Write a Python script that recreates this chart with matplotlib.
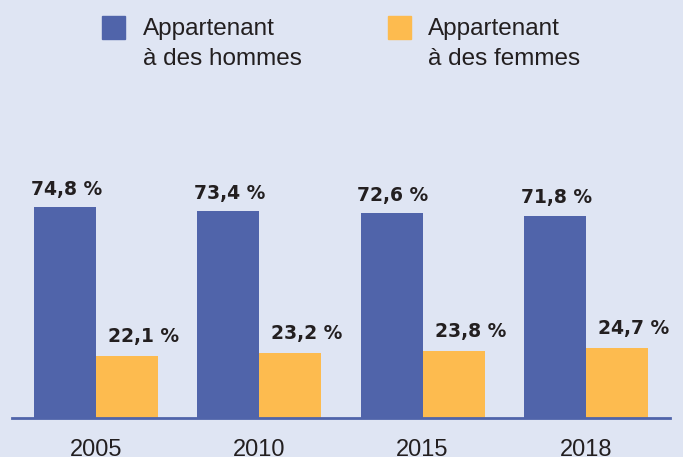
import matplotlib
matplotlib.use("Agg")
import matplotlib.pyplot as plt
from matplotlib.patches import Rectangle

# données
annees = ["2005", "2010", "2015", "2018"]
hommes = [74.8, 73.4, 72.6, 71.8]
femmes = [22.1, 23.2, 23.8, 24.7]
etiquettes_hommes = ["74,8 %", "73,4 %", "72,6 %", "71,8 %"]
etiquettes_femmes = ["22,1 %", "23,2 %", "23,8 %", "24,7 %"]
series = ["Appartenant\nà des hommes", "Appartenant\nà des femmes"]

FOND = "#dfe5f3"
BLEU = "#5064aa"
ORANGE = "#fdbb4f"
TEXTE = "#231f20"

W, H = 683, 457
fig = plt.figure(figsize=(W / 100, H / 100), dpi=100, facecolor=FOND)
ax = fig.add_axes([12 / W, 39 / H, (670 - 12) / W, (418 - 100) / H])
ax.set_facecolor(FOND)

x = list(range(len(annees)))
larg = 0.38
b1 = ax.bar([i - larg / 2 for i in x], hommes, width=larg, color=BLEU)
b2 = ax.bar([i + larg / 2 for i in x], femmes, width=larg, color=ORANGE)

for rect, lab in zip(b1, etiquettes_hommes):
    ax.annotate(lab, (rect.get_x() + rect.get_width() / 2, rect.get_height()),
                xytext=(1, 9), textcoords="offset points", ha="center", va="baseline",
                fontsize=13.5, fontweight="bold", color=TEXTE, family="DejaVu Sans")
for rect, lab in zip(b2, etiquettes_femmes):
    ax.annotate(lab, (rect.get_x() + rect.get_width() / 2, rect.get_height()),
                xytext=(12, 10), textcoords="offset points", ha="center", va="baseline",
                fontsize=13.5, fontweight="bold", color=TEXTE, family="DejaVu Sans")

ax.set_xlim(-0.514, 3.515)
ax.set_ylim(0, 112.8)
ax.set_xticks(x)
ax.set_xticklabels(annees, fontsize=17, color=TEXTE, family="Liberation Sans")
ax.tick_params(axis="x", length=0, pad=15)
ax.set_yticks([])
for s in ["top", "left", "right"]:
    ax.spines[s].set_visible(False)
ax.spines["bottom"].set_color(BLEU)
ax.spines["bottom"].set_linewidth(2)

# légende
for (xc, xt), col, lab in zip([(102, 143), (388, 428)], [BLEU, ORANGE], series):
    fig.patches.append(Rectangle((xc / W, 1 - 39 / H), 23 / W, 23 / H,
                                 transform=fig.transFigure, color=col))
    fig.text(xt / W, 1 - 18 / H, lab, va="top", ha="left", fontsize=17.5,
             color=TEXTE, family="Liberation Sans", linespacing=1.45)

fig.savefig("out.png", dpi=100, facecolor=FOND)
